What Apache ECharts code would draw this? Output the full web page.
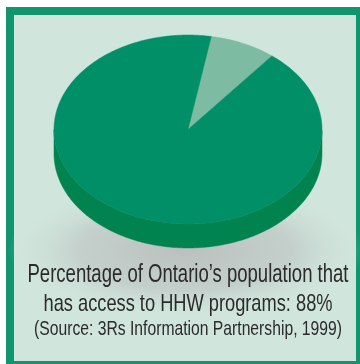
<!DOCTYPE html>
<html>
<head>
<meta charset="utf-8">
<script src="https://cdn.jsdelivr.net/npm/echarts@6/dist/echarts.min.js"></script>
<style>
  html, body { margin: 0; padding: 0; background: #fff; }
  #chart { width: 360px; height: 364px; }
</style>
</head>
<body>
<div id="chart"></div>
<script>
// slices as drawn (light slice first, starting at the back)
var sliceNames = ['No access', 'Access to HHW programs'];
var sliceValues = [8, 92];
var captionLines = [
  'Percentage of Ontario\u2019s population that',
  'has access to HHW programs: 88%',
  '(Source: 3Rs Information Partnership, 1999)'
];

var topColors = ['#7dbba2', '#008f67'];
var sideColor = '#00834f';
var squash = 0.705;   // ellipse height / width
var depth = 24;       // thickness of the pie

// cumulative start / end for each slice
var sliceData = [];
var acc = 0;
sliceValues.forEach(function (v, i) {
  sliceData.push({ name: sliceNames[i], value: [acc, acc + v] });
  acc += v;
});

// squeeze the caption into the narrow look of the original font
var fontFamily = '"Liberation Sans Narrow", "Liberation Sans", sans-serif';
var captionSizes = [25, 24, 21];
var captionWidths = [321, 289, 308];
var captionY = [275, 304.5, 329.5];
var ctx = document.createElement('canvas').getContext('2d');
function fitScale(text, size, width) {
  ctx.font = size + 'px ' + fontFamily;
  return width / ctx.measureText(text).width;
}

var captionTexts = captionLines.map(function (t, i) {
  return {
    type: 'text',
    x: 188,
    y: captionY[i],
    scaleX: fitScale(t, captionSizes[i], captionWidths[i]),
    z: 10,
    style: {
      text: t,
      x: 0,
      y: 0,
      fill: '#2b2b2b',
      font: captionSizes[i] + 'px ' + fontFamily,
      textAlign: 'center',
      textVerticalAlign: 'middle'
    }
  };
});

var chart = echarts.init(document.getElementById('chart'));

var option = {
  animation: false,
  backgroundColor: '#fff',
  graphic: [
    {
      type: 'rect',
      z: 0,
      shape: { x: 10, y: 11, width: 350, height: 354 },
      style: { fill: '#d0e5dc', stroke: '#11956f', lineWidth: 8 }
    },
    {
      // soft shadow under the pie
      type: 'circle',
      z: 1,
      x: 186,
      y: 250,
      scaleY: 0.38,
      shape: { cx: 0, cy: 0, r: 178 },
      style: {
        fill: {
          type: 'radial', x: 0.5, y: 0.5, r: 0.5,
          colorStops: [
            { offset: 0, color: 'rgba(186,192,190,1)' },
            { offset: 0.6, color: 'rgba(194,204,200,0.85)' },
            { offset: 1, color: 'rgba(208,229,220,0)' }
          ]
        }
      }
    }
  ].concat(captionTexts),
  polar: {
    center: [188, 129.5],
    radius: 134
  },
  angleAxis: {
    type: 'value',
    min: 0,
    max: 100,
    startAngle: 80,
    clockwise: true,
    axisLine: { show: false },
    axisTick: { show: false },
    axisLabel: { show: false },
    splitLine: { show: false }
  },
  radiusAxis: {
    type: 'value',
    min: 0,
    max: 1,
    axisLine: { show: false },
    axisTick: { show: false },
    axisLabel: { show: false },
    splitLine: { show: false }
  },
  series: [
    {
      type: 'custom',
      coordinateSystem: 'polar',
      z: 5,
      data: sliceData,
      renderItem: function (params, api) {
        var a0 = api.value(0);
        var a1 = api.value(1);
        var c = api.coord([0, 0]);
        var cx = c[0], cy = c[1];
        var top = [[cx, cy]];
        var front = [];
        var n = Math.max(2, Math.ceil((a1 - a0) / 0.2));
        for (var k = 0; k <= n; k++) {
          var v = a0 + (a1 - a0) * k / n;
          var p = api.coord([1, v]);
          var q = [p[0], cy + (p[1] - cy) * squash];
          top.push(q);
          if (p[1] >= cy - 0.01) front.push(q);
        }
        var children = [];
        if (front.length > 1) {
          var side = front.slice();
          for (var j = front.length - 1; j >= 0; j--) {
            side.push([front[j][0], front[j][1] + depth]);
          }
          children.push({
            type: 'polygon',
            shape: { points: side },
            style: { fill: sideColor, stroke: sideColor, lineWidth: 0.5 }
          });
        }
        var col = topColors[params.dataIndex];
        children.push({
          type: 'polygon',
          shape: { points: top },
          style: { fill: col, stroke: col, lineWidth: 0.5 }
        });
        return { type: 'group', children: children };
      }
    }
  ]
};

chart.setOption(option);
</script>
</body>
</html>
